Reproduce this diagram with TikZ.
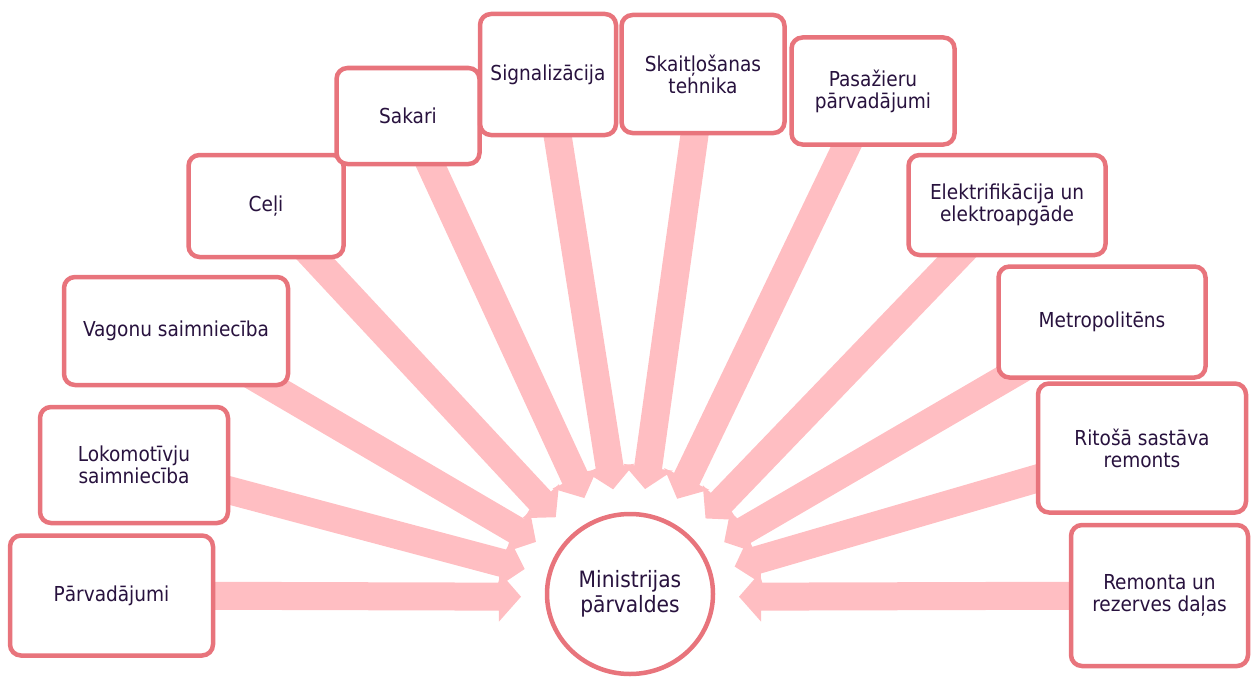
\documentclass[tikz,border=0pt]{standalone}
\usepackage{fontspec}
\setmainfont{DejaVu Sans Condensed}
\usetikzlibrary{calc,shapes.geometric}
\definecolor{boxline}{RGB}{232,116,124}
\definecolor{arrowfill}{RGB}{255,190,194}
\definecolor{txt}{RGB}{40,18,62}
\pgfdeclarelayer{bg}
\pgfsetlayers{bg,main}
\tikzset{
  unitbox/.style={draw=boxline, line width=4.5pt, fill=white, rounded corners=11pt,
    align=center, text=txt, inner sep=0pt, font=\fontsize{20.6}{22}\selectfont},
  hubnode/.style={ellipse, draw=boxline, line width=4.5pt, fill=white, align=center,
    text=txt, inner sep=0pt, minimum width=166pt, minimum height=160pt,
    font=\fontsize{22.5}{25}\selectfont},
  radfill/.style={fill=arrowfill}
}
\newcommand{\radarrow}[1]{%
  \coordinate (hb) at ($(hubc)!131pt!(#1.center)$);
  \fill[radfill] ($(hubc)!109pt!(#1.center)$) -- ($(hb)!25pt!90:(#1.center)$)
    -- ($(hb)!14pt!90:(#1.center)$) -- ($(#1.center)!14pt!-90:(hubc)$)
    -- ($(#1.center)!14pt!90:(hubc)$) -- ($(hb)!14pt!-90:(#1.center)$)
    -- ($(hb)!25pt!-90:(#1.center)$) -- cycle;}
\begin{document}
\begin{tikzpicture}[x=1pt,y=-1pt]
\useasboundingbox (0,0) rectangle (1252,677);
\node[hubnode] (hub) at (630,594) {Ministrijas\\pārvaldes};
\coordinate (hubc) at ($(hub.center)+(0,3)$);
\node[unitbox, minimum width=203pt, minimum height=120pt] (b1) at (111.5,595.5) {Pārvadājumi};
\node[unitbox, minimum width=188pt, minimum height=116pt] (b2) at (134,465) {Lokomotīvju\\saimniecība};
\node[unitbox, minimum width=224pt, minimum height=108pt] (b3) at (176,331) {Vagonu saimniecība};
\node[unitbox, minimum width=155pt, minimum height=102pt] (b4) at (266,206) {Ceļi};
\node[unitbox, minimum width=143pt, minimum height=96pt] (b5) at (408,116) {Sakari};
\node[unitbox, minimum width=136pt, minimum height=121pt] (b6) at (548,74.5) {Signalizācija};
\node[unitbox, minimum width=163pt, minimum height=118pt] (b7) at (703,74) {Skaitļošanas\\tehnika};
\node[unitbox, minimum width=163pt, minimum height=107pt] (b8) at (873,91) {Pasažieru\\pārvadājumi};
\node[unitbox, minimum width=197pt, minimum height=100pt] (b9) at (1007,205) {Elektrifikācija un\\elektroapgāde};
\node[unitbox, minimum width=207pt, minimum height=111pt] (b10) at (1102,322) {Metropolitēns};
\node[unitbox, minimum width=208pt, minimum height=129pt] (b11) at (1142,448) {Ritošā sastāva\\remonts};
\node[unitbox, minimum width=177pt, minimum height=141pt] (b12) at (1159.5,595.5) {Remonta un\\rezerves daļas};
\begin{pgfonlayer}{bg}
\foreach \b in {b1,b2,b3,b4,b5,b6,b7,b8,b9,b10,b11,b12} {\radarrow{\b}}
\end{pgfonlayer}
\end{tikzpicture}
\end{document}
